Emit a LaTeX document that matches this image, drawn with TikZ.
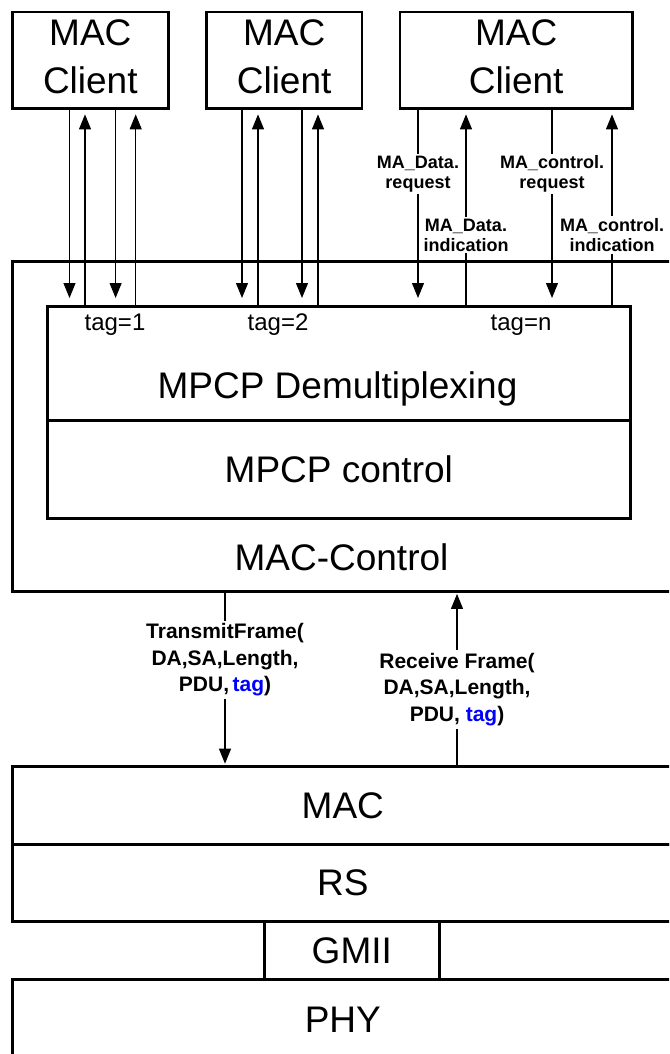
\documentclass[tikz,border=0pt]{standalone}
\usepackage{fontspec}
\setmainfont{Liberation Sans}
\usetikzlibrary{arrows.meta}
\definecolor{tagblue}{RGB}{0,0,255}
\tikzset{
  layerbox/.style={draw, line width=2.6pt, inner sep=0pt, anchor=north west, align=center, font=\fontsize{37}{48}\selectfont},
  clientbox/.style={layerbox, minimum height=96.6pt, text depth=7pt},
  bigtext/.style={anchor=base, font=\fontsize{37}{48}\selectfont},
  tagtext/.style={anchor=base, font=\fontsize{24}{28}\selectfont},
  prim/.style={->, line width=1.1pt},
  downprim/.style={prim, shorten >=7pt},
  upprim/.style={prim, shorten >=4.5pt},
  callout/.style={fill=white, inner sep=2pt, align=center, font=\bfseries\fontsize{18}{20}\selectfont},
  framelbl/.style={fill=white, inner sep=3pt, align=center, font=\bfseries\fontsize{21}{26.5}\selectfont},
}
\begin{document}
\begin{tikzpicture}[x=1pt, y=-1pt, >={Triangle[length=15pt,width=12pt]}]
\useasboundingbox (0,0) rectangle (669,1054);
\clip (0,0) rectangle (669,1054);
% clients
\node[clientbox, minimum width=156pt] (cl1) at (11,10.7) {MAC\\Client};
\node[clientbox, minimum width=155.3pt] (cl2) at (205.2,10.7) {MAC\\Client};
\node[clientbox, minimum width=232.9pt] (cl3) at (398.5,10.7) {MAC\\Client};
% MAC control sublayer
\node[layerbox, minimum width=661pt, minimum height=330pt] (macctl) at (11,260) {};
\node[bigtext] (macctltxt) at (341.5,570) {MAC-Control};
\node[layerbox, minimum width=583pt, minimum height=114pt] (demux) at (46,305) {};
\node[bigtext] (demuxtxt) at (337.5,398) {MPCP Demultiplexing};
\node[layerbox, minimum width=583pt, minimum height=98pt] (mpcp) at (46,419) {MPCP control};
\node[tagtext] (tag1) at (115,330) {tag=1};
\node[tagtext] (tag2) at (278,330) {tag=2};
\node[tagtext] (tagn) at (521,330) {tag=n};
% lower layers
\node[layerbox, minimum width=661pt, minimum height=78pt] (mac) at (11,765) {MAC};
\node[layerbox, minimum width=661pt, minimum height=77pt] (rs) at (11,843) {RS};
\node[layerbox, minimum width=175pt, minimum height=58pt] (gmii) at (263,920) {GMII};
\node[layerbox, minimum width=661pt, minimum height=80pt] (phy) at (11,978) {PHY};
% client primitives
\draw[downprim] (69.5,0 |- cl1.south) -- (69.5,0 |- demux.north);
\draw[upprim] (85,0 |- demux.north) -- (85,0 |- cl1.south);
\draw[downprim] (115.6,0 |- cl1.south) -- (115.6,0 |- demux.north);
\draw[upprim] (135.7,0 |- demux.north) -- (135.7,0 |- cl1.south);
\draw[downprim] (242,0 |- cl2.south) -- (242,0 |- demux.north);
\draw[upprim] (258,0 |- demux.north) -- (258,0 |- cl2.south);
\draw[downprim] (302,0 |- cl2.south) -- (302,0 |- demux.north);
\draw[upprim] (318,0 |- demux.north) -- (318,0 |- cl2.south);
\draw[downprim] (418,0 |- cl3.south) -- (418,0 |- demux.north);
\draw[upprim] (466,0 |- demux.north) -- (466,0 |- cl3.south);
\draw[downprim] (552,0 |- cl3.south) -- (552,0 |- demux.north);
\draw[upprim] (612,0 |- demux.north) -- (612,0 |- cl3.south);
\node[callout] (datareq) at (418,174) {MA\_Data.\\request};
\node[callout] (dataind) at (466,235) {MA\_Data.\\indication};
\node[callout] (ctrlreq) at (552,174) {MA\_control.\\request};
\node[callout] (ctrlind) at (612,235) {MA\_control.\\indication};
% MAC service
\draw[prim, shorten >=1.3pt] (225,0 |- macctl.south) -- (225,0 |- mac.north);
\draw[prim, shorten >=1.3pt] (457,0 |- mac.north) -- (457,0 |- macctl.south);
\node[framelbl] (txframe) at (225,660) {TransmitFrame(\\DA,SA,Length,\\PDU,\,{\color{tagblue}tag})};
\node[framelbl] (rxframe) at (457,689.5) {Receive Frame(\\DA,SA,Length,\\PDU, {\color{tagblue}tag})};
\end{tikzpicture}
\end{document}
